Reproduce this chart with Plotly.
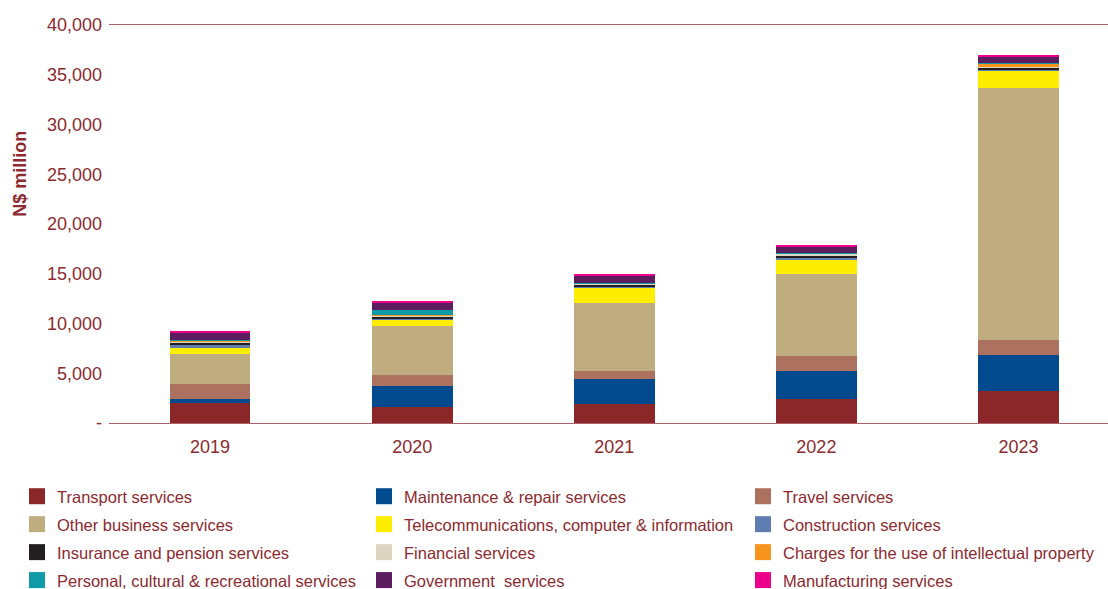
import plotly.graph_objects as go

years = ["2019", "2020", "2021", "2022", "2023"]

series_names = [
    "Transport services", "Maintenance & repair services", "Travel services",
    "Other business services", "Telecommunications, computer & information", "Construction services",
    "Insurance and pension services", "Financial services", "Charges for the use of intellectual property",
    "Personal, cultural & recreational services", "Government  services", "Manufacturing services",
]

transport = [2000, 1650, 1950, 2430, 3230]
maintenance = [400, 2100, 2470, 2770, 3640]
travel = [1470, 1070, 800, 1530, 1510]
other_business = [3070, 4940, 6800, 8210, 25265]
telecom = [570, 670, 1600, 1400, 1770]
construction = [300, 50, 50, 270, 130]
insurance = [330, 230, 250, 270, 200]
financial = [60, 50, 80, 130, 80]
charges = [130, 100, 30, 60, 300]
personal = [50, 470, 20, 30, 30]
government = [730, 800, 780, 670, 650]
manufacturing = [170, 170, 130, 130, 180]

series_values = [transport, maintenance, travel, other_business, telecom, construction,
                 insurance, financial, charges, personal, government, manufacturing]

colors = ["#8B2729", "#004A8D", "#AD7160", "#BFAD7F", "#FFED00", "#5F7DB1",
          "#231F20", "#DDD5C0", "#F7941D", "#0E9AA7", "#5B1D5E", "#EC008C"]

y_tickvals = [0, 5000, 10000, 15000, 20000, 25000, 30000, 35000, 40000]
y_ticktext = ["-", "5,000", "10,000", "15,000", "20,000", "25,000", "30,000", "35,000", "40,000"]

TXT = "#8C2A2F"
FONT = "Liberation Sans, Arial, sans-serif"

fig = go.Figure()
for i, (name, vals, col) in enumerate(zip(series_names, series_values, colors)):
    fig.add_trace(go.Bar(x=years, y=vals, name=name, marker=dict(color=col, line=dict(width=0)),
                         width=0.4, showlegend=False))
# legend entries (3 columns)
legends = ["legend", "legend2", "legend3"]
for i, (name, col) in enumerate(zip(series_names, colors)):
    fig.add_trace(go.Scatter(x=[None], y=[None], mode="markers", name=name,
                             marker=dict(symbol="square", size=16, color=col),
                             legend=legends[i % 3], legendgroup=name, showlegend=True,
                             hoverinfo="skip"))

W0, W1 = 109, 1108
H0, H1 = 25, 423.5
def px_x(p):
    return (p - W0) / (W1 - W0)

legend_common = dict(orientation="v", yanchor="top", xanchor="left",
                     yref="container", xref="container", y=1 - 479 / 589,
                     font=dict(family=FONT, size=16.5, color=TXT), tracegroupgap=3.5,
                     bgcolor="rgba(0,0,0,0)", itemclick=False, itemdoubleclick=False)

fig.update_layout(
    width=1108, height=589,
    margin=dict(l=109, r=0, t=25, b=589 - 423.5, autoexpand=False),
    plot_bgcolor="white", paper_bgcolor="white",
    barmode="stack",
    font=dict(family=FONT, size=18, color=TXT),
    xaxis=dict(type="category", range=[-0.5, 4.443], showline=True, mirror=True,
               linecolor="#B0606A", linewidth=1, ticks="", showgrid=False,
               ticklabelstandoff=7, tickfont=dict(size=18, color=TXT)),
    yaxis=dict(range=[0, 40000], tickvals=y_tickvals, ticktext=y_ticktext, showgrid=False,
               zeroline=False, showline=False, ticks="", ticklabelstandoff=6,
               tickfont=dict(size=18, color=TXT)),
    legend=dict(x=17 / 1108, **legend_common),
    legend2=dict(x=364 / 1108, **legend_common),
    legend3=dict(x=743 / 1108, **legend_common),
    annotations=[dict(text="<b>N$ million</b>", xref="paper", yref="paper",
                      x=px_x(20), y=(H1 - 174) / (H1 - H0), textangle=-90, showarrow=False,
                      xanchor="center", yanchor="middle",
                      font=dict(family=FONT, size=18, color=TXT))],
)

fig.write_html("out.html")
